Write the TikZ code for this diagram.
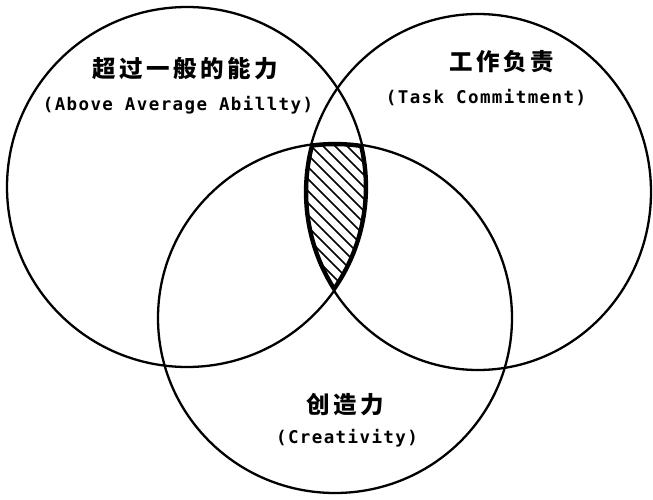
\documentclass[tikz,border=0pt]{standalone}
\usepackage{fontspec}
\newfontfamily\cjk{Noto Sans CJK SC}[LetterSpace=15]
\newfontfamily\latinmono{DejaVu Sans Mono}[LetterSpace=8]
\begin{document}
\begin{tikzpicture}[x=1pt,y=1pt,
  ring/.style={draw=black,line width=2.3pt},
  cjklabel/.style={font=\cjk\bfseries\fontsize{23.5}{25}\selectfont,inner sep=0pt},
  enlabel/.style={font=\latinmono\bfseries\fontsize{17.5}{19}\selectfont,inner sep=0pt},
  hatch/.style={line width=1.5pt}]
\useasboundingbox (0,0) rectangle (653,499);
\fill[white] (0,0) rectangle (653,499);
% circles
\def\leftring{(187,312) circle [radius=180]}
\def\rightring{(478,307) ellipse [x radius=173,y radius=178]}
\def\bottomring{(335,181) ellipse [x radius=177,y radius=175]}
% hatched common region
\begin{scope}
  \clip \leftring;
  \clip \rightring;
  \clip \bottomring;
  \foreach \c in {508,520,...,736} {
    \draw[hatch] (\c-380,380) -- (\c-190,190);
  }
  \draw[line width=6.5pt] \leftring;
  \draw[line width=6.5pt] \rightring;
  \draw[line width=6.5pt] \bottomring;
\end{scope}
\draw[ring] \leftring;
\draw[ring] \rightring;
\draw[ring] \bottomring;
% labels
\node[cjklabel] (abilitycn) at (185,430) {超过一般的能力};
\node[enlabel] (abilityen) at (178,394) {(Above Average Abillty)};
\node[cjklabel] (taskcn) at (502,437) {工作负责};
\node[enlabel] (tasken) at (486,401) {(Task Commitment)};
\node[cjklabel] (creacn) at (345,94) {创造力};
\node[enlabel] (creaen) at (347,61) {(Creativity)};
\end{tikzpicture}
\end{document}
